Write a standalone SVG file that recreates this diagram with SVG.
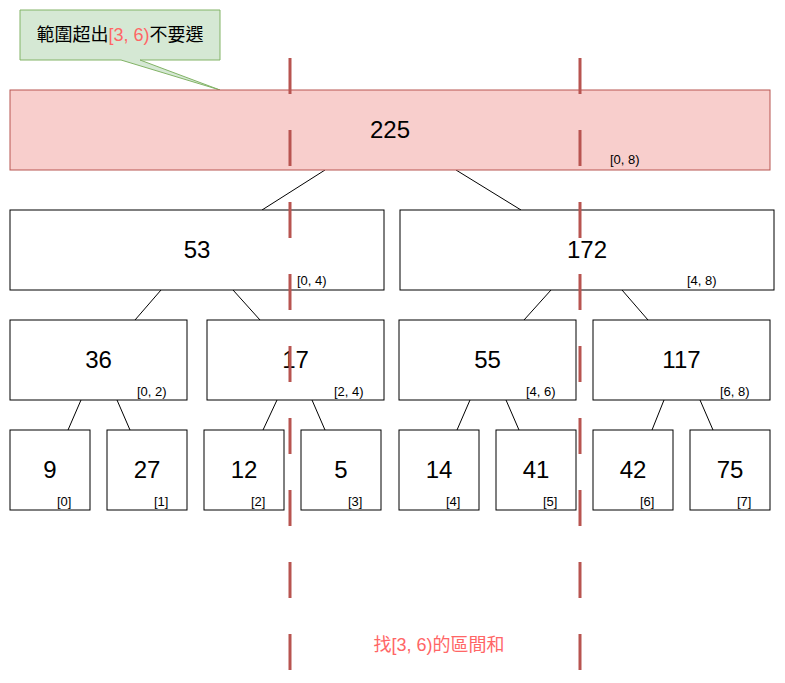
<svg xmlns="http://www.w3.org/2000/svg" width="785" height="683" viewBox="0 0 785 683">
<style>
.box{fill:#ffffff;stroke:#000000;stroke-width:1}
.num{font-family:"Liberation Sans",Arial,sans-serif;font-size:24px;fill:#000000;text-anchor:middle}
.lbl{font-family:"Liberation Sans",Arial,sans-serif;font-size:13px;fill:#000000}
.edge{stroke:#000000;stroke-width:1;fill:none}
.cut{stroke:#b85450;stroke-width:3;stroke-dasharray:36 36;fill:none}
.cjk{font-family:"Liberation Sans","Noto Sans CJK TC",sans-serif}
</style>
<rect width="785" height="683" fill="#ffffff"/>
<g id="connectors">
<line class="edge" x1="325" y1="170" x2="262" y2="210"/>
<line class="edge" x1="456" y1="170" x2="521" y2="210"/>
<line class="edge" x1="161" y1="290" x2="135" y2="320"/>
<line class="edge" x1="233" y1="290" x2="260" y2="320"/>
<line class="edge" x1="551" y1="290" x2="524" y2="320"/>
<line class="edge" x1="622" y1="290" x2="648" y2="320"/>
<line class="edge" x1="81" y1="400" x2="68" y2="430"/>
<line class="edge" x1="117" y1="400" x2="130" y2="430"/>
<line class="edge" x1="277" y1="400" x2="263" y2="430"/>
<line class="edge" x1="312" y1="400" x2="325" y2="430"/>
<line class="edge" x1="470" y1="400" x2="457" y2="430"/>
<line class="edge" x1="506" y1="400" x2="519" y2="430"/>
<line class="edge" x1="664" y1="400" x2="652" y2="430"/>
<line class="edge" x1="700" y1="400" x2="713" y2="430"/>
</g>
<g id="callout">
<polygon points="20,10 220,10 220,60 140,60 220,90 121,60 20,60" fill="#d5e8d4" stroke="#82b366" stroke-width="1"/>
<text x="120" y="41" class="cjk" font-size="18" text-anchor="middle" fill="#000000">範圍超出<tspan fill="#ff6666">[3, 6)</tspan>不要選</text>
</g>
<g id="n225">
<rect x="10" y="90" width="760" height="80" fill="#f8cecc" stroke="#b85450" stroke-width="1"/>
<text class="num" x="390" y="138">225</text>
<text class="lbl" x="610" y="164">[0, 8)</text>
</g>
<g id="n53">
<rect class="box" x="10" y="210" width="374" height="80"/>
<text class="num" x="197" y="258">53</text>
<text class="lbl" x="297" y="285">[0, 4)</text>
</g>
<g id="n172">
<rect class="box" x="400" y="210" width="374" height="80"/>
<text class="num" x="587" y="258">172</text>
<text class="lbl" x="687" y="285">[4, 8)</text>
</g>
<g id="n36">
<rect class="box" x="10" y="320" width="177" height="80"/>
<text class="num" x="98.5" y="368">36</text>
<text class="lbl" x="137" y="396">[0, 2)</text>
</g>
<g id="n17">
<rect class="box" x="207" y="320" width="177" height="80"/>
<text class="num" x="295.5" y="368">17</text>
<text class="lbl" x="334" y="396">[2, 4)</text>
</g>
<g id="n55">
<rect class="box" x="399" y="320" width="177" height="80"/>
<text class="num" x="487.5" y="368">55</text>
<text class="lbl" x="526" y="396">[4, 6)</text>
</g>
<g id="n117">
<rect class="box" x="593" y="320" width="177" height="80"/>
<text class="num" x="681.5" y="368">117</text>
<text class="lbl" x="720" y="396">[6, 8)</text>
</g>
<g id="n9">
<rect class="box" x="10" y="430" width="80" height="80"/>
<text class="num" x="50" y="478">9</text>
<text class="lbl" x="57" y="506">[0]</text>
</g>
<g id="n27">
<rect class="box" x="107" y="430" width="80" height="80"/>
<text class="num" x="147" y="478">27</text>
<text class="lbl" x="154" y="506">[1]</text>
</g>
<g id="n12">
<rect class="box" x="204" y="430" width="80" height="80"/>
<text class="num" x="244" y="478">12</text>
<text class="lbl" x="251" y="506">[2]</text>
</g>
<g id="n5">
<rect class="box" x="301" y="430" width="80" height="80"/>
<text class="num" x="341" y="478">5</text>
<text class="lbl" x="348" y="506">[3]</text>
</g>
<g id="n14">
<rect class="box" x="399" y="430" width="80" height="80"/>
<text class="num" x="439" y="478">14</text>
<text class="lbl" x="446" y="506">[4]</text>
</g>
<g id="n41">
<rect class="box" x="496" y="430" width="80" height="80"/>
<text class="num" x="536" y="478">41</text>
<text class="lbl" x="543" y="506">[5]</text>
</g>
<g id="n42">
<rect class="box" x="593" y="430" width="80" height="80"/>
<text class="num" x="633" y="478">42</text>
<text class="lbl" x="640" y="506">[6]</text>
</g>
<g id="n75">
<rect class="box" x="690" y="430" width="80" height="80"/>
<text class="num" x="730" y="478">75</text>
<text class="lbl" x="737" y="506">[7]</text>
</g>
<g id="range-lines">
<line class="cut" x1="290" y1="58" x2="290" y2="670"/>
<line class="cut" x1="580" y1="58" x2="580" y2="670"/>
</g>
<g id="caption">
<text x="439" y="651" class="cjk" font-size="18" text-anchor="middle" fill="#ff6666">找[3, 6)的區間和</text>
</g>
</svg>
